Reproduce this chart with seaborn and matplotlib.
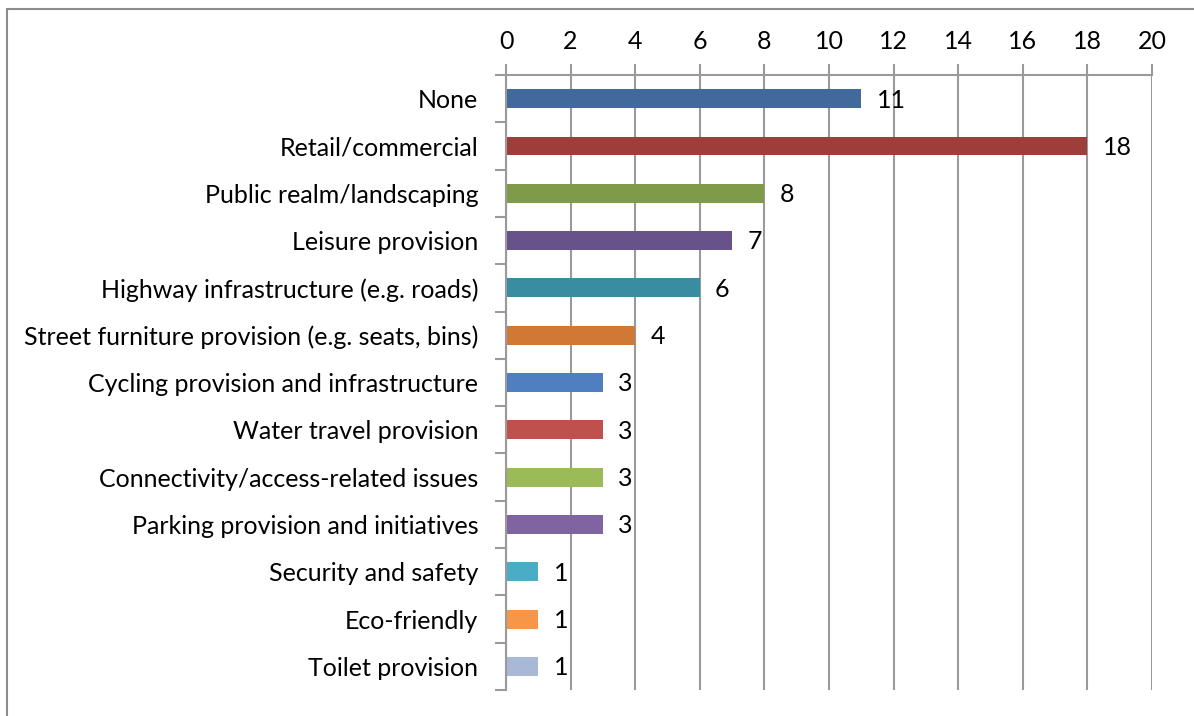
import matplotlib
matplotlib.use("Agg")
import matplotlib.pyplot as plt
import seaborn as sns
import pandas as pd
from matplotlib.patches import Rectangle

# Data
categories = [
    "None",
    "Retail/commercial",
    "Public realm/landscaping",
    "Leisure provision",
    "Highway infrastructure (e.g. roads)",
    "Street furniture provision (e.g. seats, bins)",
    "Cycling provision and infrastructure",
    "Water travel provision",
    "Connectivity/access-related issues",
    "Parking provision and initiatives",
    "Security and safety",
    "Eco-friendly",
    "Toilet provision",
]
counts = [11, 18, 8, 7, 6, 4, 3, 3, 3, 3, 1, 1, 1]
bar_colors = [
    "#416A9B", "#9E3E3B", "#7F9A48", "#67528A", "#3A8CA0", "#D07935",
    "#4F7FC0", "#C0504D", "#9BBB59", "#8064A2", "#4BACC6", "#F79646", "#A9B8D6",
]

df = pd.DataFrame({"category": categories, "count": counts})

sns.set_style("white")
plt.rcParams["font.family"] = ["Lato", "DejaVu Sans"]
plt.rcParams["text.color"] = "black"
plt.rcParams["xtick.color"] = "black"
plt.rcParams["ytick.color"] = "black"

fs = 18

fig = plt.figure(figsize=(11.94, 7.16), dpi=100)
ax = fig.add_axes([506 / 1194, 1 - 690 / 716, (1152 - 506) / 1194, (690 - 75) / 716])

sns.barplot(data=df, x="count", y="category", hue="category", palette=bar_colors,
            dodge=False, legend=False, width=0.4, saturation=1, linewidth=0,
            ax=ax, orient="h")

ax.set_xlim(0, 20)
ax.set_ylim(len(categories) - 0.5, -0.5)
ax.set_xticks(range(0, 21, 2))
ax.xaxis.tick_top()
ax.set_xlabel("")
ax.set_ylabel("")

grid_color = "#9a9a9a"
ax.grid(axis="x", color=grid_color, linewidth=1.5)
ax.set_axisbelow(True)
for side in ["right", "bottom"]:
    ax.spines[side].set_visible(False)
for side in ["top", "left"]:
    ax.spines[side].set_color(grid_color)
    ax.spines[side].set_linewidth(1.5)

ax.tick_params(axis="x", which="major", top=True, length=8, width=1.5, color=grid_color,
               labelsize=fs, labelcolor="black", pad=8)
# category ticks sit between bars
ax.set_yticks([i + 0.5 for i in range(-1, len(categories))], minor=True)
ax.tick_params(axis="y", which="minor", left=True, length=8, width=1.5, color=grid_color)
ax.tick_params(axis="y", which="major", left=False, length=0, labelsize=fs,
               labelcolor="black", pad=20)

for i, v in enumerate(counts):
    ax.annotate(str(v), (v, i), xytext=(11, -1), textcoords="offset points",
                va="center", ha="left", fontsize=fs, color="black")

# outer chart border
fig.patches.append(Rectangle((7 / 1194, -0.05), 1.2, 1 - 9 / 716 + 0.05,
                             transform=fig.transFigure, fill=False,
                             edgecolor="#8c8c8c", linewidth=1.5))

fig.savefig("out.png", dpi=100)
